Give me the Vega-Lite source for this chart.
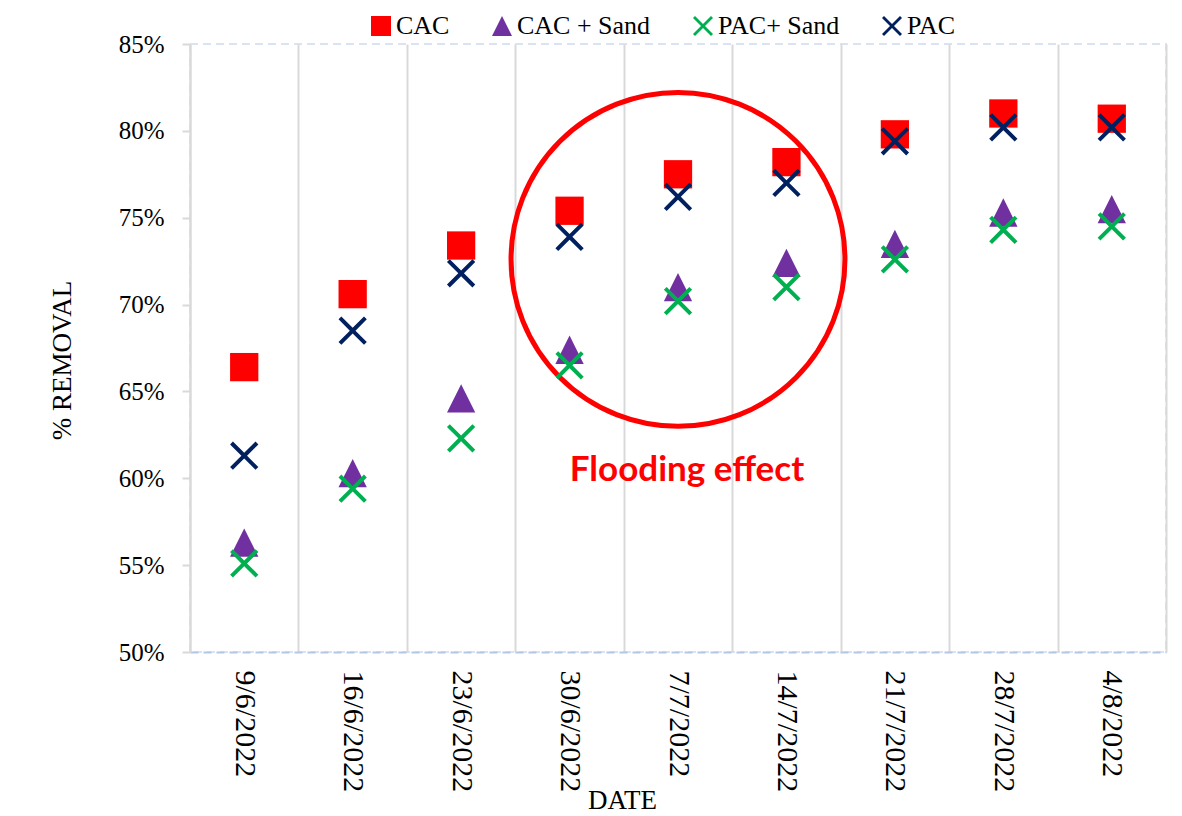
{
  "$schema": "https://vega.github.io/schema/vega-lite/v6.json",
  "description": "Percent removal by date for four treatments",
  "width": 976,
  "height": 608,
  "autosize": "none",
  "padding": {"left": 190, "top": 44, "right": 16, "bottom": 164},
  "background": "white",
  "config": {
    "font": "Liberation Serif",
    "view": {"stroke": "#dae3f3", "strokeDash": [8, 5], "strokeWidth": 2},
    "axis": {
      "labelFont": "Liberation Serif",
      "labelColor": "black",
      "titleFont": "Liberation Serif",
      "titleFontWeight": "normal",
      "titleColor": "black"
    },
    "legend": {
      "labelFont": "Liberation Serif",
      "labelFontSize": 26,
      "labelColor": "black"
    }
  },
  "layer": [
    {
      "data": {"values": [{"date": "7/7/2022", "value": 0.726}]},
      "mark": {"type": "point", "shape": "circle", "size": 111500, "filled": false, "stroke": "#ff0000", "strokeWidth": 5, "opacity": 1},
      "encoding": {
        "x": {"field": "date", "type": "nominal", "bandPosition": 0.5},
        "y": {"field": "value", "type": "quantitative"}
      }
    },
    {
      "data": {"values": [{"date": "7/7/2022", "value": 0.605, "label": "Flooding effect"}]},
      "mark": {"type": "text", "font": "Lato", "fontWeight": "bold", "fontSize": 35, "color": "#ff0000", "dx": 9, "baseline": "middle", "align": "center"},
      "encoding": {
        "x": {"field": "date", "type": "nominal", "bandPosition": 0.5},
        "y": {"field": "value", "type": "quantitative"},
        "text": {"field": "label"}
      }
    },
    {
      "data": {
        "values": [
          {"date": "9/6/2022", "series": "CAC", "value": 0.664},
          {"date": "16/6/2022", "series": "CAC", "value": 0.706},
          {"date": "23/6/2022", "series": "CAC", "value": 0.734},
          {"date": "30/6/2022", "series": "CAC", "value": 0.754},
          {"date": "7/7/2022", "series": "CAC", "value": 0.775},
          {"date": "14/7/2022", "series": "CAC", "value": 0.782},
          {"date": "21/7/2022", "series": "CAC", "value": 0.798},
          {"date": "28/7/2022", "series": "CAC", "value": 0.810},
          {"date": "4/8/2022", "series": "CAC", "value": 0.807},
          {"date": "9/6/2022", "series": "CAC + Sand", "value": 0.563},
          {"date": "16/6/2022", "series": "CAC + Sand", "value": 0.603},
          {"date": "23/6/2022", "series": "CAC + Sand", "value": 0.646},
          {"date": "30/6/2022", "series": "CAC + Sand", "value": 0.674},
          {"date": "7/7/2022", "series": "CAC + Sand", "value": 0.710},
          {"date": "14/7/2022", "series": "CAC + Sand", "value": 0.724},
          {"date": "21/7/2022", "series": "CAC + Sand", "value": 0.735},
          {"date": "28/7/2022", "series": "CAC + Sand", "value": 0.753},
          {"date": "4/8/2022", "series": "CAC + Sand", "value": 0.755},
          {"date": "9/6/2022", "series": "PAC+ Sand", "value": 0.551},
          {"date": "16/6/2022", "series": "PAC+ Sand", "value": 0.594},
          {"date": "23/6/2022", "series": "PAC+ Sand", "value": 0.623},
          {"date": "30/6/2022", "series": "PAC+ Sand", "value": 0.665},
          {"date": "7/7/2022", "series": "PAC+ Sand", "value": 0.702},
          {"date": "14/7/2022", "series": "PAC+ Sand", "value": 0.710},
          {"date": "21/7/2022", "series": "PAC+ Sand", "value": 0.726},
          {"date": "28/7/2022", "series": "PAC+ Sand", "value": 0.743},
          {"date": "4/8/2022", "series": "PAC+ Sand", "value": 0.745},
          {"date": "9/6/2022", "series": "PAC", "value": 0.613},
          {"date": "16/6/2022", "series": "PAC", "value": 0.685},
          {"date": "23/6/2022", "series": "PAC", "value": 0.718},
          {"date": "30/6/2022", "series": "PAC", "value": 0.739},
          {"date": "7/7/2022", "series": "PAC", "value": 0.762},
          {"date": "14/7/2022", "series": "PAC", "value": 0.770},
          {"date": "21/7/2022", "series": "PAC", "value": 0.794},
          {"date": "28/7/2022", "series": "PAC", "value": 0.802},
          {"date": "4/8/2022", "series": "PAC", "value": 0.802}
        ]
      },
      "mark": {"type": "point", "filled": true, "size": 800, "opacity": 1},
      "encoding": {
        "x": {
          "field": "date",
          "type": "nominal",
          "bandPosition": 0.5,
          "scale": {
            "type": "band",
            "paddingInner": 0,
            "paddingOuter": 0,
            "domain": ["9/6/2022", "16/6/2022", "23/6/2022", "30/6/2022", "7/7/2022", "14/7/2022", "21/7/2022", "28/7/2022", "4/8/2022"]
          },
          "axis": {
            "title": "DATE",
            "titleFontSize": 27,
            "titleX": 432,
            "titleY": 148,
            "titleAlign": "center",
            "titleBaseline": "middle",
            "labelFontSize": 30,
            "labelAngle": 90,
            "labelAlign": "left",
            "labelBaseline": "middle",
            "labelPadding": 18,
            "ticks": false,
            "tickBand": "extent",
            "grid": true,
            "gridColor": "#d9d9d9",
            "gridWidth": 2,
            "domainColor": "#b4c7e7",
            "domainDash": [8, 5],
            "domainWidth": 2
          }
        },
        "y": {
          "field": "value",
          "type": "quantitative",
          "scale": {"domain": [0.5, 0.85], "nice": false, "zero": false},
          "axis": {
            "title": "% REMOVAL",
            "titleFontSize": 27,
            "titleX": -128,
            "titleY": 316,
            "titleAngle": -90,
            "titleAlign": "center",
            "titleBaseline": "middle",
            "labelFontSize": 25,
            "format": ".0%",
            "values": [0.5, 0.55, 0.6, 0.65, 0.7, 0.75, 0.8, 0.85],
            "grid": false,
            "tickSize": 8,
            "tickColor": "#d9d9d9",
            "tickWidth": 2,
            "labelPadding": 18,
            "domainColor": "#d9d9d9",
            "domainWidth": 2
          }
        },
        "color": {
          "field": "series",
          "type": "nominal",
          "scale": {
            "domain": ["CAC", "CAC + Sand", "PAC+ Sand", "PAC"],
            "range": ["#ff0000", "#7030a0", "#00b050", "#002060"]
          },
          "legend": {
            "title": null,
            "orient": "none",
            "direction": "horizontal",
            "legendX": 178,
            "legendY": -31,
            "symbolSize": 400,
            "symbolOpacity": 1,
            "labelOffset": 2,
            "columnPadding": 39
          }
        },
        "shape": {
          "field": "series",
          "type": "nominal",
          "scale": {
            "domain": ["CAC", "CAC + Sand", "PAC+ Sand", "PAC"],
            "range": [
              "square",
              "M0,-1L1,1L-1,1Z",
              "M0,-0.2L0.8,-1L1,-0.8L0.2,0L1,0.8L0.8,1L0,0.2L-0.8,1L-1,0.8L-0.2,0L-1,-0.8L-0.8,-1Z",
              "M0,-0.2L0.8,-1L1,-0.8L0.2,0L1,0.8L0.8,1L0,0.2L-0.8,1L-1,0.8L-0.2,0L-1,-0.8L-0.8,-1Z"
            ]
          },
          "legend": null
        }
      }
    }
  ]
}
